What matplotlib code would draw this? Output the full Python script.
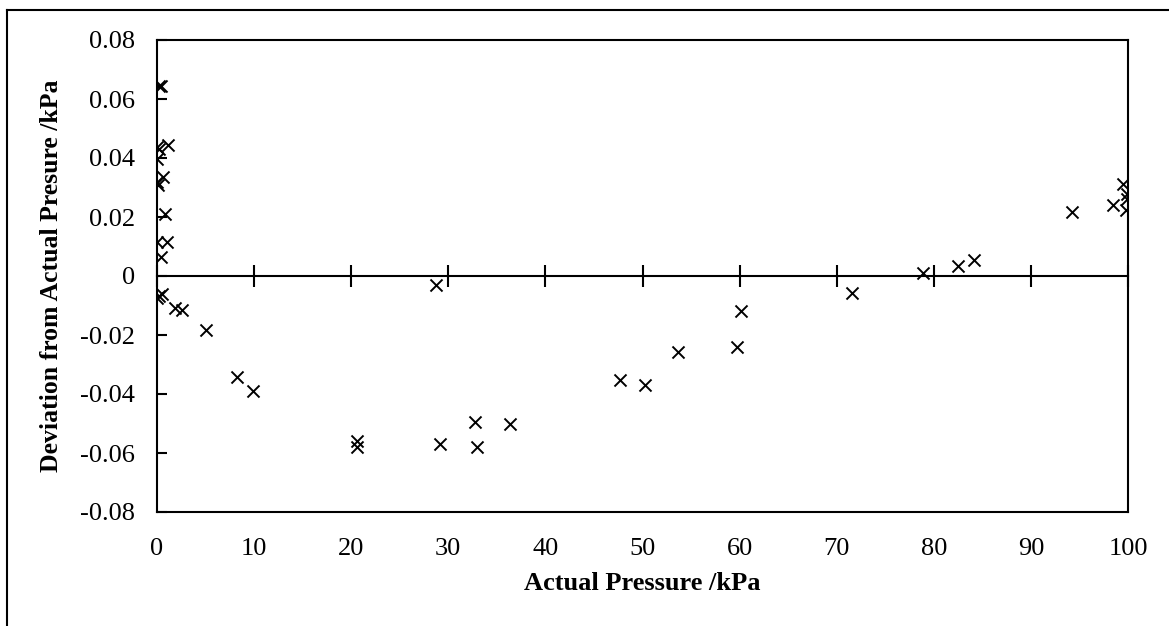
# Libraries
import matplotlib.pyplot as plt
from matplotlib.lines import Line2D

plt.rcParams['font.family'] = ['Liberation Serif', 'DejaVu Serif']

# Data: actual pressure (kPa) and deviation (kPa)
pressure = [0.2, 0.4, 0.0, 0.2, 1.1, 0.0, 0.6, 0.0, 0.1, 0.8, 0.0, 1.0, 0.4,
            0.2, 0.5, 0.0, 1.85, 2.6, 5.0, 8.2, 9.9, 20.6, 20.6, 28.7, 29.1,
            32.7, 33.0, 36.4, 47.7, 50.3, 53.7, 59.7, 60.1, 71.6, 78.9, 82.5,
            84.1, 94.2, 98.5, 99.5, 99.9, 99.9, 99.8]
deviation = [0.0644, 0.0644, 0.0437, 0.0432, 0.0444, 0.0397, 0.0336, 0.032,
             0.031, 0.021, 0.0115, 0.0115, 0.0064, -0.0068, -0.006, -0.0075,
             -0.011, -0.0115, -0.0183, -0.0342, -0.039, -0.056, -0.058, -0.003,
             -0.057, -0.0495, -0.058, -0.0502, -0.0353, -0.037, -0.0258, -0.024,
             -0.0119, -0.0058, 0.001, 0.0034, 0.0054, 0.0217, 0.024, 0.0312,
             0.0278, 0.026, 0.0224]

x_ticks = list(range(0, 101, 10))
y_ticks = [-0.08, -0.06, -0.04, -0.02, 0, 0.02, 0.04, 0.06, 0.08]
y_labels = ['-0.08', '-0.06', '-0.04', '-0.02', '0', '0.02', '0.04', '0.06', '0.08']

fig = plt.figure(figsize=(11.69, 6.26), dpi=100)
ax = fig.add_axes([157/1169, 1 - 512/626, (1128 - 157)/1169, (512 - 40)/626])

ax.scatter(pressure, deviation, marker='x', s=75, color='black', linewidths=1.4, zorder=3)

ax.set_xlim(0, 100)
ax.set_ylim(-0.08, 0.08)

# horizontal axis crosses at zero, labels stay at the bottom
ax.spines['bottom'].set_position(('data', 0))
ax.set_xticks(x_ticks)
ax.tick_params(axis='x', direction='inout', length=16, width=1.5, labelbottom=False)
sec = ax.secondary_xaxis('bottom')
sec.set_xticks(x_ticks)
sec.tick_params(length=0, pad=19, labelsize=19)
sec.spines['bottom'].set_linewidth(1.5)

ax.set_yticks(y_ticks)
ax.set_yticklabels(y_labels)
ax.tick_params(axis='y', direction='in', length=7, width=1.5, pad=16, labelsize=19)
for s in ax.spines.values():
    s.set_linewidth(1.5)

ax.set_xlabel('Actual Pressure /kPa', fontsize=19, fontweight='bold')
ax.xaxis.set_label_coords(0.5, -0.128)
ax.set_ylabel('Deviation from Actual Presure /kPa', fontsize=18.5, fontweight='bold')
ax.yaxis.set_label_coords(-0.097, 0.5)

# outer chart frame (left and top edges visible)
fig.add_artist(Line2D([7/1169, 7/1169], [0, 1 - 10/626], color='black', lw=1.5))
fig.add_artist(Line2D([7/1169, 1], [1 - 10/626, 1 - 10/626], color='black', lw=1.5))

fig.savefig('out.png', dpi=100)
